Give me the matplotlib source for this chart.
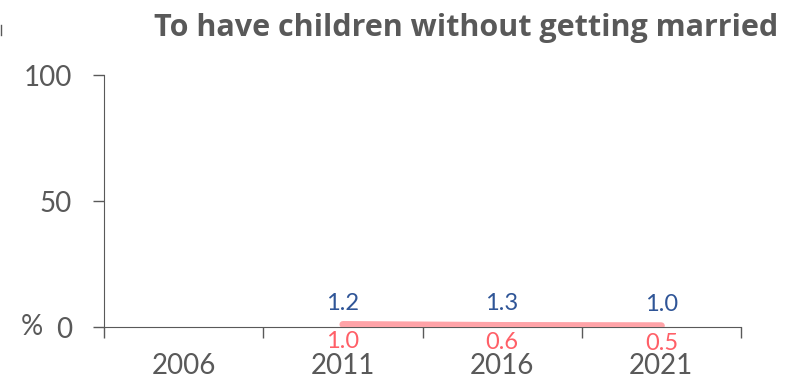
import matplotlib.pyplot as plt
import numpy as np

years = ["2006", "2011", "2016", "2021"]
series_a = [np.nan, 1.2, 1.3, 1.0]
series_b = [np.nan, 1.0, 0.6, 0.5]
title = "To have children without getting married"

grey = "#595959"
blue = "#2F5597"
pink = "#FF5F67"

fig = plt.figure(figsize=(8.06, 3.81), dpi=100)
ax = fig.add_axes([104 / 806, 1 - 327 / 381, (741 - 104) / 806, (327 - 75) / 381])

x = np.arange(len(years))
ax.plot(x, series_a, color="#8FAADC", lw=1.5, solid_capstyle="round", zorder=2)
ax.plot(x, series_b, color="#FFA3A8", lw=5, solid_capstyle="round", zorder=3)

for xi, v in zip(x, series_a):
    if not np.isnan(v):
        ax.annotate(f"{v:.1f}", (xi, v), xytext=(0, 7), textcoords="offset points",
                    ha="center", va="bottom", color=blue, fontsize=17, family="Lato")
for xi, v in zip(x, series_b):
    if not np.isnan(v):
        ax.annotate(f"{v:.1f}", (xi, v), xytext=(0, -5), textcoords="offset points",
                    ha="center", va="top", color=pink, fontsize=17, family="Lato")

ax.set_xlim(-0.5, len(years) - 0.5)
ax.set_ylim(0, 100)
ax.set_yticks([0, 50, 100])
ax.set_yticklabels(["0", "50", "100"])
ax.set_xticks(np.arange(len(years) + 1) - 0.5)
ax.set_xticklabels([])
ax.set_xticks(x, minor=True)
ax.set_xticklabels(years, minor=True)
ax.tick_params(axis="x", which="major", direction="out", length=8, color=grey, width=1)
ax.tick_params(axis="x", which="minor", length=0, pad=19, labelsize=20, labelcolor=grey)
ax.tick_params(axis="y", direction="out", length=8, color=grey, width=1,
               labelsize=20, labelcolor=grey, pad=15)
for lab in ax.get_xticklabels(minor=True) + ax.get_yticklabels():
    lab.set_family("Lato")

for s in ["top", "right"]:
    ax.spines[s].set_visible(False)
ax.spines["left"].set_color(grey)
ax.spines["bottom"].set_color(grey)

fig.text(32 / 806, 1 - 327 / 381, "%", ha="center", va="center", fontsize=20,
         color=grey, family="Lato")
fig.text(466 / 806, 1 - 28 / 381, title, ha="center", va="center", fontsize=22,
         fontweight="bold", color=grey, family="Open Sans")
fig.add_artist(plt.Line2D([1 / 806, 1 / 806], [1 - 25 / 381, 1 - 35 / 381],
                          color=grey, lw=1))

fig.savefig("out.png", dpi=100)
